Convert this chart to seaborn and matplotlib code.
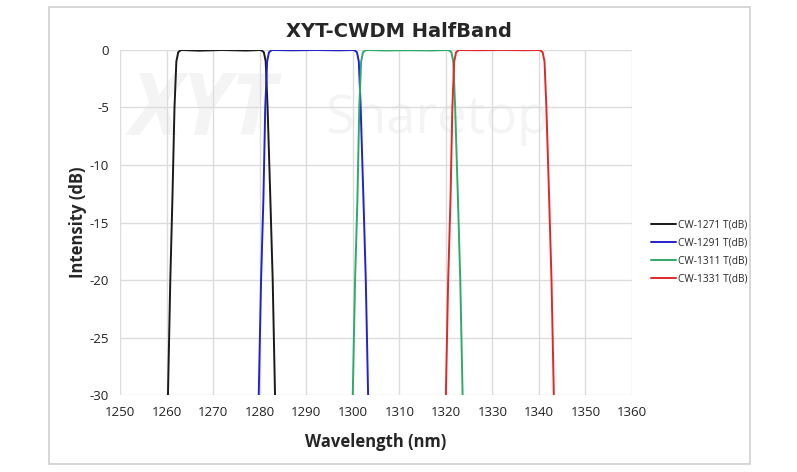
import numpy as np
import pandas as pd
import seaborn as sns
import matplotlib.pyplot as plt
from matplotlib.patches import Rectangle

# 读图得到的数据点 (波长 nm, 插损 dB)
wl_1271 = [1260.3, 1260.8, 1261.25, 1261.7, 1262.1, 1262.5, 1263.1, 1267, 1272, 1277,
           1280.3, 1280.9, 1281.3, 1281.7, 1282.3, 1282.8, 1283.3]
wl_1291 = [1279.8, 1280.3, 1280.8, 1281.2, 1281.6, 1282.0, 1282.6, 1287, 1292, 1297,
           1300.3, 1300.9, 1301.3, 1301.7, 1302.3, 1302.8, 1303.3]
wl_1311 = [1300.0, 1300.5, 1301.0, 1301.4, 1301.8, 1302.2, 1302.8, 1307, 1312, 1317,
           1320.6, 1321.2, 1321.6, 1322.0, 1322.6, 1323.1, 1323.6]
wl_1331 = [1320.0, 1320.5, 1321.0, 1321.4, 1321.8, 1322.2, 1322.8, 1327, 1332, 1337,
           1340.2, 1340.8, 1341.2, 1341.6, 1342.2, 1342.7, 1343.2]
db_1271 = [-30, -20, -13, -5, -1, -0.2, 0, -0.06, 0, -0.05, 0, -0.2, -1, -5, -13, -20, -30]
db_1291 = [-30, -20, -13, -5, -1, -0.2, 0, -0.03, 0, -0.03, 0, -0.2, -1, -5, -13, -20, -30]
db_1311 = [-30, -20, -13, -5, -1, -0.2, 0, -0.04, -0.02, -0.04, 0, -0.2, -1, -5, -13, -20, -30]
db_1331 = [-30, -20, -13, -5, -1, -0.2, 0, -0.02, 0, -0.02, 0, -0.2, -1, -5, -13, -20, -30]

names = ['CW-1271 T(dB)', 'CW-1291 T(dB)', 'CW-1311 T(dB)', 'CW-1331 T(dB)']
colors = ['#1a1a1a', '#2222cc', '#2eaa6a', '#e02828']
x_ticks = list(range(1250, 1361, 10))
y_ticks = list(range(-30, 1, 5))

rows = []
for n, xs, ys in zip(names, [wl_1271, wl_1291, wl_1311, wl_1331],
                     [db_1271, db_1291, db_1311, db_1331]):
    for x, y in zip(xs, ys):
        rows.append((n, x, y))
df = pd.DataFrame(rows, columns=['series', 'wl', 'db'])

sns.set_theme(style='white')
plt.rcParams['font.family'] = ['Open Sans', 'DejaVu Sans']
plt.rcParams['axes.unicode_minus'] = False

fig = plt.figure(figsize=(7.97, 4.72), dpi=100)
ax = fig.add_axes([0.1506, 0.1631, 0.6424, 0.731])

# 外框
fig.patches.append(Rectangle((0.0615, 0.017), 0.8795, 0.968, transform=fig.transFigure,
                             fill=False, edgecolor='#d0d0d0', linewidth=1.2))

# 水印
ax.text(0.02, 0.82, 'XYT', transform=ax.transAxes, fontsize=62, fontweight='bold',
        fontstyle='italic', color='#f4f4f4', zorder=0, va='center')
ax.text(0.40, 0.80, 'Sharetop', transform=ax.transAxes, fontsize=38,
        color='#f4f4f4', zorder=0, va='center')

sns.lineplot(data=df, x='wl', y='db', hue='series', palette=colors, estimator=None,
             sort=False, linewidth=1.4, ax=ax, zorder=3)

ax.set_xlim(1250, 1360)
ax.set_ylim(-30, 0)
ax.set_xticks(x_ticks)
ax.set_yticks(y_ticks)
ax.grid(True, color='#dcdcdc', linewidth=1)
for s in ax.spines.values():
    s.set_visible(False)
ax.tick_params(axis='both', length=0, labelsize=9.5, colors='#222222', pad=8)

ax.set_xlabel('Wavelength (nm)', fontsize=12, fontweight='bold', labelpad=10)
ax.set_ylabel('Intensity (dB)', fontsize=12, fontweight='bold', labelpad=2)
fig.text(0.501, 0.933, 'XYT-CWDM HalfBand', ha='center', va='center', fontsize=14,
         fontweight='bold', family=['DejaVu Sans'])

leg = ax.legend(loc='upper left', bbox_to_anchor=(1.02, 0.535), frameon=False,
                fontsize=7.3, handlelength=2.4, handletextpad=0.2, labelspacing=0.7)
for line in leg.get_lines():
    line.set_linewidth(1.4)

fig.savefig('out.png', dpi=100)
